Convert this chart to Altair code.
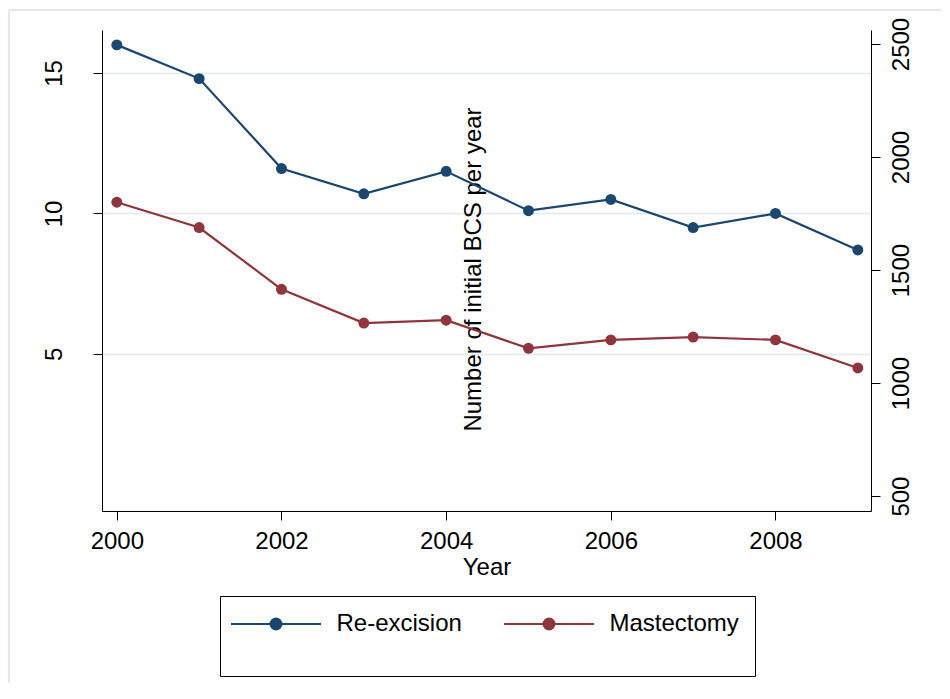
import altair as alt
import pandas as pd

# ---- data ----
years = [2000, 2001, 2002, 2003, 2004, 2005, 2006, 2007, 2008, 2009]
reexcision = [16.0, 14.8, 11.6, 10.7, 11.5, 10.1, 10.5, 9.5, 10.0, 8.7]
mastectomy = [10.4, 9.5, 7.3, 6.1, 6.2, 5.2, 5.5, 5.6, 5.5, 4.5]
series_names = ["Re-excision", "Mastectomy"]
series_colors = ["#1a476f", "#90353b"]
left_ticks = [5, 10, 15]
right_ticks = [500, 1000, 1500, 2000, 2500]
x_ticks = [2000, 2002, 2004, 2006, 2008]

FONT = "Liberation Sans"
GRID = "#e0e9ed"
FRAME = "#dfe8eb"

df = pd.DataFrame({
    "year": years * 2,
    "rate": reexcision + mastectomy,
    "series": [series_names[0]] * len(years) + [series_names[1]] * len(years),
})

# legend key: a line with a dot in the middle (unit = 5 px with symbolSize 100)
SYMBOL = "M-3.4,0H14.6M4.5,0A1.1,1.1,0,1,1,6.7,0A1.1,1.1,0,1,1,4.5,0Z"

def make_legend():
    return alt.Legend(
        title=" ", titleOrient="bottom", titleFontSize=18, titlePadding=6,
        orient="none", legendX=118, legendY=566, direction="horizontal",
        strokeColor="black", fillColor="white", padding=16,
        symbolType=SYMBOL, symbolSize=100, symbolStrokeWidth=2,
        labelFontSize=24, labelFont=FONT, labelColor="black",
        labelOffset=76.5, columnPadding=38, labelLimit=400,
    )

color_scale = alt.Scale(domain=series_names, range=series_colors)

x_enc = alt.X(
    "year:Q",
    scale=alt.Scale(domain=[1999.82, 2009.16], nice=False, zero=False),
    axis=alt.Axis(values=x_ticks, format="d", title="Year", tickSize=9, grid=False,
                  labelPadding=28, labelBaseline="alphabetic",
                  titleY=63, titleBaseline="alphabetic"),
)
y_enc = alt.Y(
    "rate:Q",
    scale=alt.Scale(domain=[-0.59, 16.53], nice=False, zero=False),
    axis=alt.Axis(values=left_ticks, title=None, grid=True, gridColor=GRID,
                  gridWidth=1.5, tickSize=9, labelAngle=270, labelAlign="center",
                  labelBaseline="alphabetic", labelPadding=32),
)

lines = alt.Chart(df).mark_line(strokeWidth=2.2).encode(
    x=x_enc, y=y_enc,
    stroke=alt.Stroke("series:N", scale=color_scale, legend=make_legend()),
)
points = alt.Chart(df).mark_circle(size=120, opacity=1).encode(
    x=x_enc, y=y_enc,
    fill=alt.Fill("series:N", scale=color_scale, legend=make_legend()),
)
left = alt.layer(lines, points)

right = alt.Chart(pd.DataFrame({"bcs": right_ticks})).mark_point(opacity=0).encode(
    y=alt.Y(
        "bcs:Q",
        scale=alt.Scale(domain=[434, 2562], nice=False, zero=False),
        axis=alt.Axis(orient="right", values=right_ticks, format="d", grid=False,
                      title="Number of initial BCS per year", tickSize=9,
                      labelAngle=270, labelAlign="center", labelBaseline="alphabetic",
                      labelPadding=28, titleAngle=270, titleAlign="center",
                      titleBaseline="alphabetic", titleX=-391, titleY=239),
    )
)

frame_df = pd.DataFrame({"k": [0]})
top_line = alt.Chart(frame_df).mark_rule(color=FRAME, strokeWidth=2).encode(
    x=alt.value(-93), x2=alt.value(839), y=alt.value(-20)
)
left_line = alt.Chart(frame_df).mark_rule(color=FRAME, strokeWidth=2).encode(
    x=alt.value(-93), y=alt.value(-20), y2=alt.value(653)
)

chart = alt.layer(top_line, left_line, left, right).resolve_scale(
    y="independent"
).properties(
    width=769, height=481,
    autosize=alt.AutoSizeParams(type="none"),
    padding={"left": 94, "top": 22, "right": 70, "bottom": 172},
    background="white",
).configure_view(stroke=None).configure_axis(
    labelFont=FONT, titleFont=FONT, labelFontSize=24, titleFontSize=24,
    titleFontWeight="normal", domainColor="black", tickColor="black",
    labelColor="black", titleColor="black", domainWidth=1, tickWidth=1,
    labelFlush=False, labelOverlap=False,
)

chart.save("out.html", embed_options={"renderer": "svg", "actions": False})
